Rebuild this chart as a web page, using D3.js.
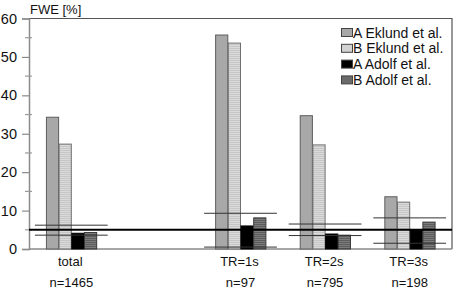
<!DOCTYPE html>
<html>
<head>
<meta charset="utf-8">
<script src="https://cdn.jsdelivr.net/npm/d3@7"></script>
<style>
    body { margin: 0; background: #fff; }
    svg text { font-family: "Liberation Sans", Arial, sans-serif; fill: #111; }
</style>
</head>
<body>
<div id="chart"></div>
<script>
// categories (the empty slot keeps the gap after "total")
const categories = ['total', 'gap', 'TR=1s', 'TR=2s', 'TR=3s'];
const groups = ['total', 'TR=1s', 'TR=2s', 'TR=3s'];
const sampleSizes = ['n=1465', 'n=97', 'n=795', 'n=198'];
const seriesNames = ['A Eklund et al.', 'B Eklund et al.', 'A Adolf et al.', 'B Adolf et al.'];

// FWE values in %, one array per series (order follows groups)
const aEklund = [34.3, 55.7, 34.7, 13.6];
const bEklund = [27.3, 53.6, 27.1, 12.2];
const aAdolf = [4.1, 6.0, 3.9, 4.9];
const bAdolf = [4.3, 8.1, 3.6, 7.0];

// confidence band per group
const ciLow = [3.6, 0.5, 3.5, 1.5];
const ciHigh = [6.2, 9.3, 6.5, 8.1];

const nominal = 5;
const yTicks = [0, 10, 20, 30, 40, 50, 60];
const yMinorTicks = [5, 15, 25, 35, 45, 55];

const width = 454;
const height = 290;
const margin = {top: 18.5, right: 2, bottom: 41, left: 29};

const svg = d3.select('#chart').append('svg')
    .attr('width', width)
    .attr('height', height);

const defs = svg.append('defs');

function stripes(id, base, line) {
    const p = defs.append('pattern')
        .attr('id', id)
        .attr('patternUnits', 'userSpaceOnUse')
        .attr('width', 4)
        .attr('height', 2);
    p.append('rect').attr('width', 4).attr('height', 2).attr('fill', base);
    p.append('rect').attr('width', 4).attr('height', 1).attr('fill', line);
}
stripes('stripeLight', '#dadada', '#c6c6c6');
stripes('stripeDark', '#7c7c7c', '#5c5c5c');

const fills = ['#a8a8a8', 'url(#stripeLight)', '#000', 'url(#stripeDark)'];
const strokes = ['#5e5e5e', '#707070', '#000', '#3a3a3a'];
const legendFills = ['#a8a8a8', '#d2d2d2', '#000', '#6a6a6a'];

const x = d3.scaleBand()
    .domain(categories)
    .range([margin.left, width - margin.right]);

const xInner = d3.scaleBand()
    .domain(seriesNames)
    .range([x.bandwidth() * 0.2, x.bandwidth() * 0.8]);

const y = d3.scaleLinear()
    .domain([0, 60])
    .range([height - margin.bottom, margin.top]);

// frame: top and right border
svg.append('path')
    .attr('d', 'M' + margin.left + ',' + y(60) + ' H' + (width - margin.right) + ' V' + y(0))
    .attr('fill', 'none')
    .attr('stroke', '#555')
    .attr('stroke-width', 1.2);

// y axis
const yAxis = d3.axisLeft(y)
    .tickValues(yTicks)
    .tickSize(7)
    .tickPadding(5);

const yAxisG = svg.append('g')
    .attr('transform', 'translate(' + margin.left + ',0)')
    .call(yAxis);

yAxisG.select('.domain').attr('stroke', '#8a8a8a').attr('stroke-width', 1.5);
yAxisG.selectAll('.tick line').attr('stroke', '#8a8a8a').attr('stroke-width', 1.2);
yAxisG.selectAll('.tick text')
    .style('font-size', '14.5px');

svg.append('g')
    .selectAll('line')
    .data(yMinorTicks)
    .join('line')
    .attr('x1', margin.left - 4)
    .attr('x2', margin.left + 3)
    .attr('y1', d => y(d))
    .attr('y2', d => y(d))
    .attr('stroke', '#9a9a9a')
    .attr('stroke-width', 1.2);

// x axis line
svg.append('line')
    .attr('x1', margin.left)
    .attr('x2', width - margin.right)
    .attr('y1', y(0))
    .attr('y2', y(0))
    .attr('stroke', '#8a8a8a')
    .attr('stroke-width', 1.5);

svg.append('text')
    .attr('x', margin.left + 1)
    .attr('y', 13.5)
    .style('font-size', '13px')
    .text('FWE [%]');

// bars
const seriesValues = [aEklund, bEklund, aAdolf, bAdolf];

const groupG = svg.append('g')
    .selectAll('g')
    .data(groups)
    .join('g')
    .attr('transform', d => 'translate(' + x(d) + ',0)');

groupG.selectAll('rect')
    .data((g, gi) => seriesNames.map((s, si) => ({series: s, si: si, value: seriesValues[si][gi]})))
    .join('rect')
    .attr('x', d => xInner(d.series) + 0.5)
    .attr('y', d => y(d.value))
    .attr('width', xInner.bandwidth() - 0.5)
    .attr('height', d => y(0) - y(d.value))
    .attr('fill', d => fills[d.si])
    .attr('stroke', d => strokes[d.si])
    .attr('stroke-width', 1);

// confidence lines
const ciHalf = x.step() * 0.43;
groupG.each(function(g, gi) {
    const c = x.bandwidth() / 2;
    [ciLow[gi], ciHigh[gi]].forEach(v => {
        d3.select(this).append('line')
            .attr('x1', c - ciHalf)
            .attr('x2', c + ciHalf)
            .attr('y1', y(v))
            .attr('y2', y(v))
            .attr('stroke', '#333')
            .attr('stroke-width', 1);
    });
});

// nominal 5% line
svg.append('line')
    .attr('x1', margin.left)
    .attr('x2', width - margin.right)
    .attr('y1', y(nominal))
    .attr('y2', y(nominal))
    .attr('stroke', '#000')
    .attr('stroke-width', 2);

// category labels
groupG.append('text')
    .attr('x', x.bandwidth() / 2 - 1)
    .attr('y', 265.5)
    .attr('text-anchor', 'middle')
    .style('font-size', '13px')
    .text(d => d);

groupG.append('text')
    .attr('x', x.bandwidth() / 2)
    .attr('y', 286.5)
    .attr('text-anchor', 'middle')
    .style('font-size', '13px')
    .text((d, i) => sampleSizes[i]);

// legend
const legend = svg.append('g')
    .attr('transform', 'translate(341,0)')
    .selectAll('g')
    .data(seriesNames)
    .join('g')
    .attr('transform', (d, i) => 'translate(0,' + (32.5 + i * 15.8) + ')');

legend.append('rect')
    .attr('x', 0.5)
    .attr('y', -4)
    .attr('width', 11)
    .attr('height', 8)
    .attr('fill', (d, i) => legendFills[i])
    .attr('stroke', '#444')
    .attr('stroke-width', 1);

legend.append('text')
    .attr('x', 12)
    .attr('y', 5)
    .style('font-size', '14px')
    .text(d => d);
</script>
</body>
</html>
